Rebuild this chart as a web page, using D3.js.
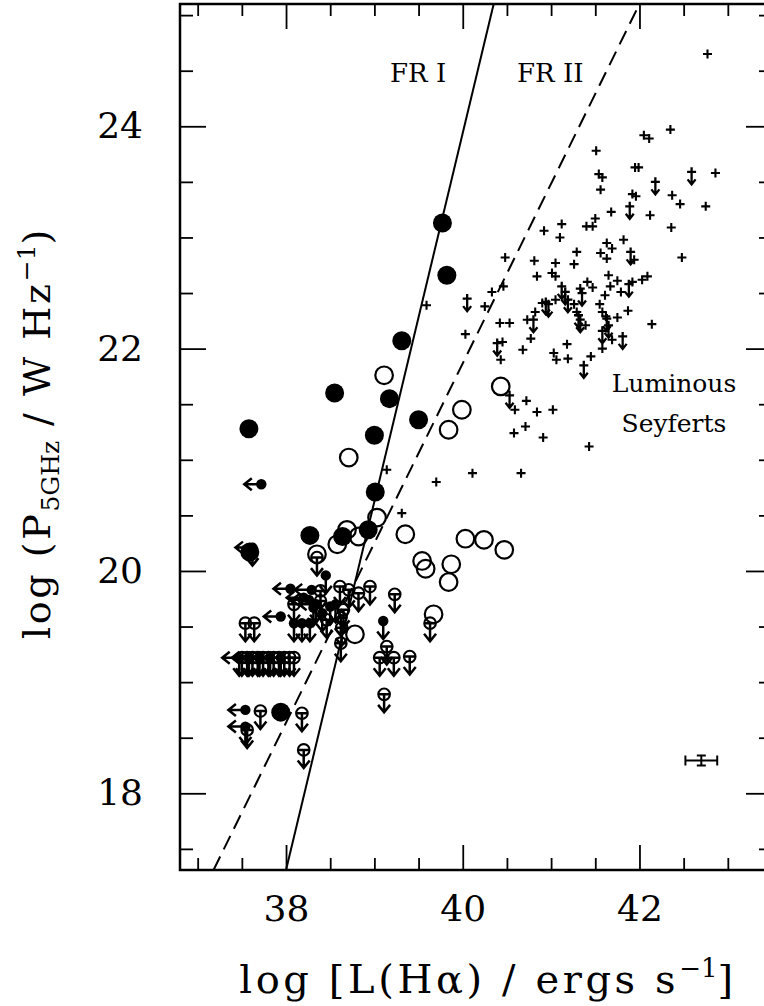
<!DOCTYPE html>
<html>
<head>
<meta charset="utf-8">
<script src="https://cdn.jsdelivr.net/npm/d3@7"></script>
<style>
body { margin: 0; background: #fff; }
text { font-family: "DejaVu Serif", serif; fill: #000; }
</style>
</head>
<body>
<div id="chart"></div>
<script>
// axis ranges and ticks
var xDomain = [36.8, 43.5];
var yDomain = [17.31, 25.1];
var xMajor = [38, 40, 42];
var yMajor = [18, 20, 22, 24];
var xMinor = d3.range(37, 43.5, 0.5);
var yMinor = d3.range(17.5, 25.1, 0.5);

// dividing lines [logL, logP]
var frOneLine = [[38.0, 17.31], [40.35, 25.1]];
var frTwoLine = [[37.18, 17.31], [42.0, 25.1]];

// detections, large symbols
var filledPts = [[37.58, 21.28], [38.55, 21.60], [39.17, 21.55], [39.50, 21.36], [39.00, 21.22],
    [39.31, 22.07], [39.01, 20.71], [38.27, 20.32], [38.64, 20.31], [38.93, 20.37],
    [39.77, 23.13], [39.82, 22.66], [37.94, 18.73], [37.59, 20.17]];
var openPts = [[39.11, 21.76], [38.71, 21.02], [39.03, 20.48], [38.69, 20.37], [38.58, 20.24],
    [38.82, 20.31], [39.35, 20.33], [38.35, 20.15], [40.03, 20.29], [40.24, 20.28],
    [40.47, 20.19], [39.54, 20.09], [39.58, 20.02], [39.87, 20.06], [39.84, 19.90],
    [39.67, 19.61], [38.78, 19.43], [40.43, 21.66], [39.99, 21.45], [39.84, 21.27]];

// luminous seyferts
var seyfertPts = [[41.54, 23.57], [41.58, 23.54], [41.95, 23.63], [41.99, 23.63], [42.86, 23.58],
    [41.56, 23.43], [41.92, 23.39], [41.96, 23.37], [42.37, 23.38], [42.46, 23.30], [42.75, 23.28],
    [41.68, 23.23], [42.12, 23.20], [41.50, 23.17], [41.40, 23.10], [41.47, 23.10], [41.12, 23.12],
    [40.92, 23.06], [41.10, 23.00], [42.36, 23.09], [41.82, 22.98], [41.63, 22.95], [41.69, 22.90],
    [41.29, 22.87], [41.56, 22.86], [41.63, 22.81], [41.94, 22.80], [42.48, 22.82], [40.48, 22.82],
    [40.81, 22.79], [41.05, 22.77], [41.26, 22.76], [40.84, 22.65], [41.01, 22.68], [41.05, 22.65],
    [41.65, 22.66], [41.75, 22.61], [41.92, 22.60], [42.03, 22.62], [42.09, 22.65], [41.41, 22.60],
    [41.47, 22.55], [41.67, 22.56], [41.79, 22.51], [41.33, 22.54], [41.61, 22.48], [41.26, 22.40],
    [41.05, 22.44], [40.90, 22.41], [41.55, 22.40], [41.58, 22.33], [41.29, 22.33], [41.39, 22.21],
    [41.62, 22.29], [41.75, 22.28], [41.87, 22.34], [40.82, 22.33], [40.73, 22.26], [40.77, 22.09],
    [40.42, 22.23], [40.53, 22.23], [42.14, 22.22], [41.69, 22.08], [41.58, 22.00], [40.33, 22.51],
    [40.46, 22.56], [40.25, 22.38], [39.59, 22.39], [40.03, 22.13], [40.45, 22.06], [40.43, 21.90],
    [40.68, 21.99], [41.18, 22.04], [41.03, 21.96], [41.06, 21.90], [41.19, 21.91], [41.45, 21.93],
    [40.72, 21.53], [40.59, 21.45], [40.84, 21.43], [41.02, 21.45], [40.71, 21.30], [40.58, 21.24],
    [40.91, 21.20], [41.43, 21.12], [40.11, 20.88], [40.66, 20.88], [39.70, 20.80], [42.77, 24.65],
    [42.05, 23.92], [42.11, 23.89], [42.35, 23.97], [41.51, 23.78], [39.14, 20.91], [39.31, 20.52]];
var seyfertLims = [[42.59, 23.59], [42.18, 23.50], [41.89, 23.28], [41.90, 22.87], [41.88, 22.58],
    [41.12, 22.56], [41.16, 22.51], [41.35, 22.50], [41.19, 22.44], [40.94, 22.42], [40.97, 22.40],
    [41.31, 22.30], [41.33, 22.26], [41.63, 22.27], [41.65, 22.21], [40.80, 22.26], [41.58, 22.16],
    [41.81, 22.11], [40.05, 22.45], [40.39, 22.05], [41.37, 21.85], [40.53, 21.58]];

// radio upper limits
var openLims = [[38.35, 20.12], [38.61, 19.86], [38.71, 19.83], [38.82, 19.80], [38.95, 19.86],
    [39.23, 19.79], [38.39, 19.82], [38.39, 19.73], [38.09, 19.70], [38.46, 19.56], [38.65, 19.65],
    [37.54, 19.53], [37.64, 19.53], [38.62, 19.58], [38.63, 19.49], [38.62, 19.35], [39.63, 19.53],
    [39.14, 19.32], [39.06, 19.22], [39.22, 19.22], [39.40, 19.23], [39.11, 18.89], [37.71, 18.74],
    [38.18, 18.72], [37.56, 18.57], [38.20, 18.39], [37.50, 19.22], [37.56, 19.22], [37.62, 19.22],
    [37.68, 19.22], [37.74, 19.22], [37.80, 19.22], [37.86, 19.22], [37.92, 19.22], [37.98, 19.22],
    [38.04, 19.22], [38.09, 19.22]];
var filledLims = [[38.45, 19.96], [39.10, 19.55], [38.31, 19.67], [38.56, 19.70], [38.09, 19.53],
    [38.18, 19.53], [38.27, 19.53], [38.41, 19.62], [38.50, 19.68]];
// limits in both axes / in H-alpha only
var leftLims = [[37.72, 20.78], [38.05, 19.84], [38.29, 19.83], [38.26, 19.74], [37.94, 19.59],
    [37.54, 18.75], [38.20, 19.76]];
var leftDownLims = [[37.62, 20.21], [37.47, 19.22], [37.58, 19.22], [37.70, 19.22], [37.82, 19.22],
    [37.94, 19.22], [37.54, 18.60], [38.34, 19.70]];

// typical error bar
var errPt = [42.70, 18.295];
var errSize = [0.18, 0.045];

var svgWidth = 764;
var svgHeight = 1006;
var plot = { left: 180, right: 772, top: 4, bottom: 870 };

var svg = d3.select("#chart")
    .append("svg")
    .attr("width", svgWidth)
    .attr("height", svgHeight);

var x = d3.scaleLinear().domain(xDomain).range([plot.left, plot.right]);
var y = d3.scaleLinear().domain(yDomain).range([plot.bottom, plot.top]);

svg.append("clipPath").attr("id", "clip")
    .append("rect")
    .attr("x", plot.left).attr("y", plot.top)
    .attr("width", plot.right - plot.left).attr("height", plot.bottom - plot.top);

// axes with inward ticks on all four sides
function addAxis(axisFn, scale, ticks, size, pos, labels) {
    var ax = axisFn(scale).tickValues(ticks).tickSizeInner(-size).tickSizeOuter(0);
    if (!labels) ax.tickFormat("");
    else ax.tickFormat(d3.format("d"));
    var g = svg.append("g").attr("transform", pos).call(ax);
    g.select(".domain").remove();
    g.selectAll("line").attr("stroke", "#000").attr("stroke-width", 1.8);
    return g;
}

var xb = addAxis(d3.axisBottom, x, xMajor, 25, "translate(0," + plot.bottom + ")", true);
xb.selectAll("text").attr("font-size", 36).attr("font-family", "DejaVu Serif").attr("y", 25);
addAxis(d3.axisBottom, x, xMinor.filter(v => xMajor.indexOf(v) < 0), 12, "translate(0," + plot.bottom + ")", false);
addAxis(d3.axisTop, x, xMajor, 25, "translate(0," + plot.top + ")", false);
addAxis(d3.axisTop, x, xMinor.filter(v => xMajor.indexOf(v) < 0), 12, "translate(0," + plot.top + ")", false);

var yl = addAxis(d3.axisLeft, y, yMajor, 26, "translate(" + plot.left + ",0)", true);
yl.selectAll("text").attr("font-size", 36).attr("font-family", "DejaVu Serif").attr("x", -37);
addAxis(d3.axisLeft, y, yMinor.filter(v => yMajor.indexOf(v) < 0), 13, "translate(" + plot.left + ",0)", false);
addAxis(d3.axisRight, y, yMajor, 26, "translate(" + plot.right + ",0)", false);
addAxis(d3.axisRight, y, yMinor.filter(v => yMajor.indexOf(v) < 0), 13, "translate(" + plot.right + ",0)", false);

// frame
svg.append("rect")
    .attr("x", plot.left).attr("y", plot.top)
    .attr("width", plot.right - plot.left).attr("height", plot.bottom - plot.top)
    .attr("fill", "none").attr("stroke", "#000").attr("stroke-width", 2.5);

// FR I / FR II lines
var lineGen = d3.line().x(d => x(d[0])).y(d => y(d[1]));
var lines = svg.append("g").attr("clip-path", "url(#clip)");
lines.append("path").attr("d", lineGen(frOneLine))
    .attr("fill", "none").attr("stroke", "#000").attr("stroke-width", 2);
lines.append("path").attr("d", lineGen(frTwoLine))
    .attr("fill", "none").attr("stroke", "#000").attr("stroke-width", 2)
    .attr("stroke-dasharray", "15,8");

// symbols
var marks = svg.append("g").attr("clip-path", "url(#clip)");
var downArrow = "M0,0V18M-6,10.5L0,18L6,10.5";
var leftArrow = "M0,0H-17M-9.5,-6L-17,0L-9.5,6";

function place(sel, data) {
    return sel.selectAll(null).data(data).enter().append("g")
        .attr("transform", d => "translate(" + x(d[0]) + "," + y(d[1]) + ")");
}

place(marks, openPts).append("circle").attr("r", 8.8)
    .attr("fill", "none").attr("stroke", "#000").attr("stroke-width", 2.2);
place(marks, filledPts).append("circle").attr("r", 9.5).attr("fill", "#000");

place(marks, seyfertPts).append("path").attr("d", "M-4.5,0H4.5M0,-4.5V4.5")
    .attr("stroke", "#000").attr("stroke-width", 2.1);
place(marks, seyfertLims).append("path")
    .attr("d", "M-4.5,0H4.5M0,-4.5V12.5M-4,7.5L0,12.5L4,7.5")
    .attr("fill", "none").attr("stroke", "#000").attr("stroke-width", 2.3);

var ol = place(marks, openLims);
ol.append("circle").attr("r", 5.8).attr("fill", "none").attr("stroke", "#000").attr("stroke-width", 2.1);
ol.append("path").attr("d", "M-5.5,0H5.5" + downArrow)
    .attr("fill", "none").attr("stroke", "#000").attr("stroke-width", 2.5);

var fl = place(marks, filledLims);
fl.append("circle").attr("r", 5.2).attr("fill", "#000");
fl.append("path").attr("d", downArrow).attr("fill", "none").attr("stroke", "#000").attr("stroke-width", 2.5);

var ll = place(marks, leftLims);
ll.append("circle").attr("r", 5.2).attr("fill", "#000");
ll.append("path").attr("d", leftArrow).attr("fill", "none").attr("stroke", "#000").attr("stroke-width", 2.5);

var ld = place(marks, leftDownLims);
ld.append("circle").attr("r", 5.2).attr("fill", "#000");
ld.append("path").attr("d", leftArrow + downArrow).attr("fill", "none").attr("stroke", "#000").attr("stroke-width", 2.5);

// error bar
var eb = svg.append("g").attr("stroke", "#000").attr("stroke-width", 2);
var ex0 = x(errPt[0] - errSize[0]), ex1 = x(errPt[0] + errSize[0]), ey = y(errPt[1]);
var ey0 = y(errPt[1] - errSize[1]), ey1 = y(errPt[1] + errSize[1]), ex = x(errPt[0]);
eb.append("line").attr("x1", ex0).attr("x2", ex1).attr("y1", ey).attr("y2", ey);
eb.append("line").attr("x1", ex0).attr("x2", ex0).attr("y1", ey - 5).attr("y2", ey + 5);
eb.append("line").attr("x1", ex1).attr("x2", ex1).attr("y1", ey - 5).attr("y2", ey + 5);
eb.append("line").attr("x1", ex).attr("x2", ex).attr("y1", ey0).attr("y2", ey1);
eb.append("line").attr("x1", ex - 4.5).attr("x2", ex + 4.5).attr("y1", ey0).attr("y2", ey0);
eb.append("line").attr("x1", ex - 4.5).attr("x2", ex + 4.5).attr("y1", ey1).attr("y2", ey1);

// labels
svg.append("text").attr("x", 390).attr("y", 82).attr("font-size", 26).text("FR I");
svg.append("text").attr("x", 517).attr("y", 82).attr("font-size", 26).text("FR II");
svg.append("text").attr("x", 674).attr("y", 392).attr("font-size", 25)
    .attr("text-anchor", "middle").text("Luminous");
svg.append("text").attr("x", 674).attr("y", 432).attr("font-size", 25)
    .attr("text-anchor", "middle").text("Seyferts");

// axis titles
var xt = svg.append("text").attr("x", 488).attr("y", 993)
    .attr("font-size", 40).attr("letter-spacing", 3.6).attr("text-anchor", "middle");
xt.append("tspan").text("log [L(H\u03b1) / ergs s");
xt.append("tspan").attr("font-size", 26).attr("dy", -16).attr("letter-spacing", 0).text("\u22121");
xt.append("tspan").attr("dy", 16).text("]");

var yt = svg.append("text")
    .attr("transform", "translate(50,433) rotate(-90)")
    .attr("font-size", 38).attr("letter-spacing", 2.6).attr("text-anchor", "middle");
yt.append("tspan").text("log (P");
yt.append("tspan").attr("font-size", 25).attr("dy", 9).attr("letter-spacing", 0).text("5GHz");
yt.append("tspan").attr("dy", -9).text(" / W Hz");
yt.append("tspan").attr("font-size", 25).attr("dy", -15).attr("letter-spacing", 0).text("\u22121");
yt.append("tspan").attr("dy", 15).text(")");
</script>
</body>
</html>
